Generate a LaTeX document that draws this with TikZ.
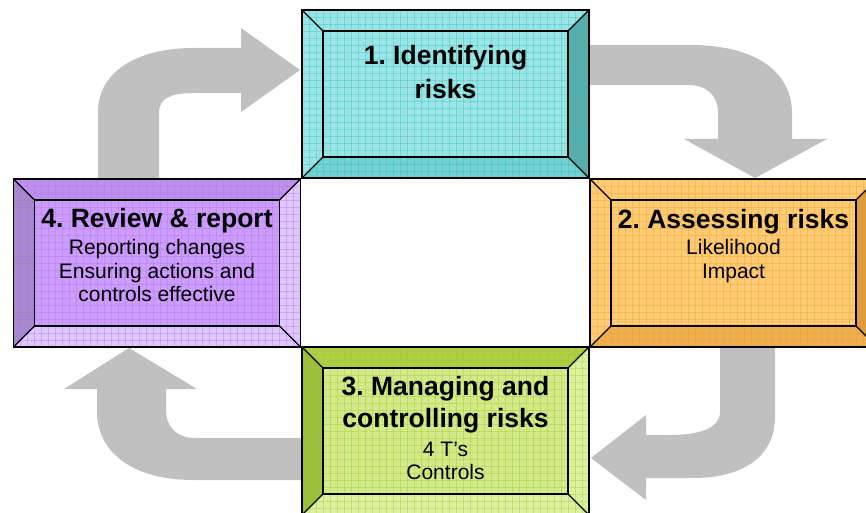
\documentclass[tikz,border=0pt]{standalone}
\usepackage{fontspec}
\setmainfont{Liberation Sans}
\usetikzlibrary{positioning}
\frenchspacing

\definecolor{arrowgray}{HTML}{C0C0C0}
\definecolor{cyanface}{HTML}{99E5E5}
\definecolor{cyangrid}{HTML}{2FB8B8}
\definecolor{cyanlow}{HTML}{72D2D2}
\definecolor{cyandark}{HTML}{5AADAD}
\definecolor{orangeface}{HTML}{FFCA74}
\definecolor{orangegrid}{HTML}{EE9A1A}
\definecolor{orangelow}{HTML}{EEAE50}
\definecolor{orangedark}{HTML}{DC9C40}
\definecolor{greenface}{HTML}{D2EA8A}
\definecolor{greengrid}{HTML}{9CC425}
\definecolor{greentop}{HTML}{AECF45}
\definecolor{greendark}{HTML}{9CBE3E}
\definecolor{greenlight}{HTML}{DCF09E}
\definecolor{purpleface}{HTML}{CC9CFF}
\definecolor{purplegrid}{HTML}{A970E6}
\definecolor{purpletop}{HTML}{BE90EE}
\definecolor{purpledark}{HTML}{A688CC}
\definecolor{purplelight}{HTML}{E0C6FF}

\newcommand{\boxtitle}{\fontsize{26.5}{30}\selectfont\bfseries}

\tikzset{
  boxframe/.style={rectangle, inner sep=0pt, outer sep=0pt, minimum width=287pt, minimum height=168pt},
  boxface/.style={rectangle, inner sep=0pt, outer sep=0pt, minimum width=245pt, minimum height=126pt},
  bevelline/.style={draw=black, line width=1.3pt},
  gridline/.style={line width=0.6pt, opacity=0.35},
  boxtext/.style={align=center, inner sep=0pt, font=\fontsize{21}{23.5}\selectfont},
  bigarrow/.style={fill=arrowgray},
}

% bevelled box: name, centre x, centre y, face, grid, top, right, bottom, left
\newcommand{\bevelbox}[9]{%
  \node[boxframe, fill=#4] (#1-frame) at (#2,#3) {};
  \node[boxface] (#1) at (#2,#3) {};
  \fill[#6] (#1-frame.north west) -- (#1-frame.north east) -- (#1.north east) -- (#1.north west) -- cycle;
  \fill[#7] (#1-frame.north east) -- (#1-frame.south east) -- (#1.south east) -- (#1.north east) -- cycle;
  \fill[#8] (#1-frame.south east) -- (#1-frame.south west) -- (#1.south west) -- (#1.south east) -- cycle;
  \fill[#9] (#1-frame.south west) -- (#1-frame.north west) -- (#1.north west) -- (#1.south west) -- cycle;
  \begin{scope}
    \clip (#1-frame.north west) rectangle (#1-frame.south east);
    \foreach \k in {1,...,41}
      \draw[gridline, #5] ([xshift=\k*7pt]#1-frame.north west) -- ([xshift=\k*7pt]#1-frame.south west);
    \foreach \k in {1,...,24}
      \draw[gridline, #5] ([yshift=-\k*7pt]#1-frame.north west) -- ([yshift=-\k*7pt]#1-frame.north east);
  \end{scope}
  \draw[bevelline] (#1-frame.north west) rectangle (#1-frame.south east);
  \draw[bevelline] (#1.north west) rectangle (#1.south east);
  \foreach \c in {north west, north east, south east, south west}
    \draw[bevelline] (#1-frame.\c) -- (#1.\c);
}

\begin{document}
\begin{tikzpicture}[x=1pt, y=-1pt]
  \useasboundingbox (0,0) rectangle (866,513);
  \clip (0,0) rectangle (866,513);
  \fill[white] (0,0) rectangle (866,513);

  % grey arrows round the cycle
  \fill[bigarrow] (98,190) -- (98,112) .. controls (98,70) and (140,48) .. (193,48)
    -- (241,48) -- (241,28) -- (300,70) -- (241,112) -- (241,93) -- (193,93)
    .. controls (172,93) and (159,98) .. (159,112) -- (159,190) -- cycle;
  \fill[bigarrow] (580,45) -- (690,45) .. controls (760,45) and (792,75) .. (792,113)
    -- (792,139) -- (827,139) -- (755,178) -- (684,139) -- (718,139) -- (718,112)
    .. controls (718,95) and (706,85) .. (688,85) -- (580,85) -- cycle;
  \fill[bigarrow] (775,340) -- (775,417) .. controls (775,455) and (745,478) .. (693,478)
    -- (646,478) -- (646,500) -- (591,458) -- (646,415) -- (646,435) -- (670,435)
    .. controls (700,435) and (720,428) .. (720,412) -- (720,340) -- cycle;
  \fill[bigarrow] (310,480) -- (193,480) .. controls (130,480) and (97,450) .. (97,412)
    -- (97,389) -- (64,389) -- (129,348) -- (197,389) -- (166,389) -- (166,410)
    .. controls (166,428) and (178,438) .. (195,438) -- (310,438) -- cycle;

  % the four steps
  \bevelbox{identify}{445.5}{94}{cyanface}{cyangrid}{cyanface}{cyandark}{cyanlow}{cyanface}
  \bevelbox{assess}{733.5}{263}{orangeface}{orangegrid}{orangeface}{orangedark}{orangelow}{orangeface}
  \bevelbox{manage}{445.5}{431}{greenface}{greengrid}{greentop}{greenlight}{greenlight}{greendark}
  \bevelbox{review}{157}{263}{purpleface}{purplegrid}{purpletop}{purplelight}{purplelight}{purpledark}

  \node[boxtext, below=13.8pt of identify.north] (identify-text)
    {{\boxtitle 1. Identifying}\\[8.5pt]{\boxtitle risks}};
  \node[boxtext, below=8.8pt of assess.north] (assess-text)
    {{\boxtitle 2. Assessing risks}\\[3pt]Likelihood\\Impact};
  \node[boxtext, below=7.8pt of manage.north] (manage-text)
    {{\boxtitle 3. Managing and}\\[6.5pt]{\boxtitle controlling risks}\\[5pt]4 T’s\\Controls};
  \node[boxtext, below=7.8pt of review.north] (review-text)
    {{\boxtitle 4. Review \& report}\\[4pt]Reporting changes\\Ensuring actions and\\controls effective};
\end{tikzpicture}
\end{document}
